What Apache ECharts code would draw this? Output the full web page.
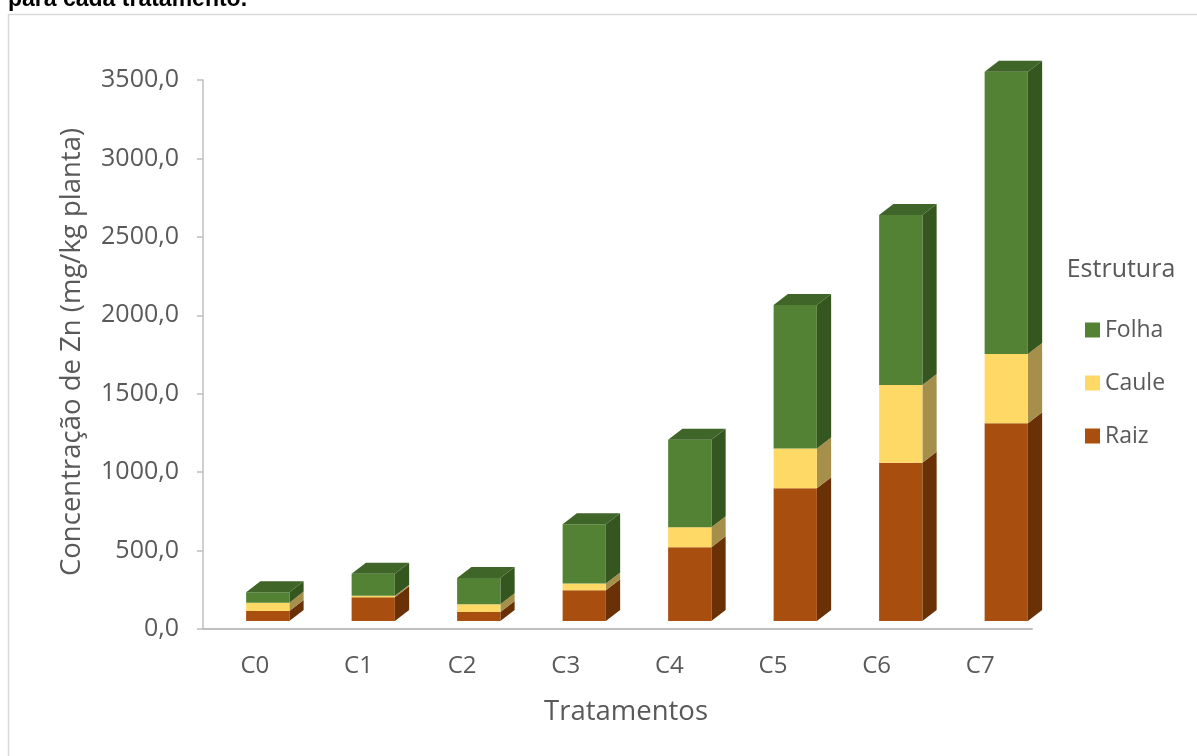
<!DOCTYPE html>
<html>
<head>
<meta charset="utf-8">
<script src="https://cdn.jsdelivr.net/npm/echarts@6/dist/echarts.min.js"></script>
<style>
  html, body { margin: 0; padding: 0; background: #ffffff; }
  #chart { width: 1197px; height: 756px; }
</style>
</head>
<body>
<div id="chart"></div>
<script>
// Zn concentration per plant structure, per treatment (mg/kg planta)
const categories = ['C0', 'C1', 'C2', 'C3', 'C4', 'C5', 'C6', 'C7'];
const raiz  = [64, 151, 57, 196, 470, 846, 1009, 1260];
const caule = [53, 10, 49, 43, 128, 253, 495, 442];
const folha = [66, 140, 168, 378, 557, 916, 1084, 1800];
const yTicks = { min: 0, max: 3500, interval: 500 };

const FONT = '"Open Sans", "Noto Sans", sans-serif';
const TEXT = '#595959';

// face colours: front, side, top
const palette = {
  Raiz:  { front: '#A84E0E', side: '#6A3006', top: '#7E3B0A' },
  Caule: { front: '#FFD966', side: '#A68F4A', top: '#C9AB55' },
  Folha: { front: '#548235', side: '#36561F', top: '#3F6529' }
};

const layers = [
  { name: 'Raiz',  values: raiz },
  { name: 'Caule', values: caule },
  { name: 'Folha', values: folha }
];

// cumulative stacking: each item is [category index, lower, upper]
const base = categories.map(() => 0);
const stacked = layers.map(layer => {
  const data = layer.values.map((v, i) => {
    const lo = base[i];
    base[i] += v;
    return [i, lo, base[i]];
  });
  return { name: layer.name, data };
});

function boxRenderer(name, drawTop) {
  const c = palette[name];
  return function (params, api) {
    const cat = api.value(0);
    const pLo = api.coord([cat, api.value(1)]);
    const pHi = api.coord([cat, api.value(2)]);
    const band = api.size([1, 0])[0];
    const w = band * 0.41;
    const dx = w * 0.33, dy = w * 0.255;
    const x0 = pLo[0] - w / 2, x1 = x0 + w;
    const yB = pLo[1], yT = pHi[1];
    const children = [
      { type: 'polygon', shape: { points: [[x1, yT], [x1 + dx, yT - dy], [x1 + dx, yB - dy], [x1, yB]] },
        style: { fill: c.side } },
      { type: 'rect', shape: { x: x0, y: yT, width: w, height: yB - yT },
        style: { fill: c.front } }
    ];
    if (drawTop) {
      children.push({ type: 'polygon', shape: { points: [[x0, yT], [x0 + dx, yT - dy], [x1 + dx, yT - dy], [x1, yT]] },
        style: { fill: c.top } });
    }
    return { type: 'group', children };
  };
}

const chart = echarts.init(document.getElementById('chart'), null, { renderer: 'canvas' });

chart.setOption({
  animation: false,
  backgroundColor: '#ffffff',
  color: [palette.Raiz.front, palette.Caule.front, palette.Folha.front],
  textStyle: { fontFamily: FONT },
  grid: [
    // boxes sit slightly raised and shifted, as on a 3D floor
    { left: 215, top: 72, width: 844, height: 549 },
    // visible axes
    { left: 203, top: 80, width: 829, height: 549 }
  ],
  xAxis: [
    { gridIndex: 0, type: 'category', data: categories, show: false },
    {
      gridIndex: 1, type: 'category', data: categories,
      axisLine: { lineStyle: { color: '#BFBFBF', width: 2 } },
      axisTick: { show: false },
      axisLabel: { color: TEXT, fontSize: 24, fontFamily: FONT, margin: 25 }
    }
  ],
  yAxis: [
    { gridIndex: 0, type: 'value', min: yTicks.min, max: yTicks.max, show: false },
    {
      gridIndex: 1, type: 'value', min: yTicks.min, max: yTicks.max, interval: yTicks.interval,
      axisLine: { show: true, lineStyle: { color: '#BFBFBF', width: 1.5 } },
      axisTick: { show: true, length: 6, lineStyle: { color: '#BFBFBF', width: 1.5 } },
      splitLine: { show: false },
      axisLabel: {
        color: TEXT, fontSize: 25, fontFamily: FONT, margin: 24,
        formatter: v => v.toFixed(1).replace('.', ',')
      }
    }
  ],
  legend: {
    orient: 'vertical',
    left: 1080, top: 313,
    data: ['Folha', 'Caule', 'Raiz'],
    icon: 'rect',
    itemWidth: 15, itemHeight: 15,
    itemGap: 29,
    textStyle: { color: TEXT, fontSize: 23, fontFamily: FONT, lineHeight: 24 }
  },
  graphic: [
    { type: 'rect', silent: true, shape: { x: 8.5, y: 14.5, width: 1300, height: 900 },
      style: { fill: 'none', stroke: '#D9D9D9', lineWidth: 1.5 } },
    { type: 'text', silent: true, x: 8, y: 0,
      style: { text: 'para cada tratamento.', fill: '#000000', font: 'bold 23px "Liberation Sans", Arial, sans-serif',
               textAlign: 'left', textVerticalAlign: 'middle' } },
    { type: 'text', silent: true, x: 72, y: 352, rotation: Math.PI / 2,
      style: { text: 'Concentração de Zn (mg/kg planta)', fill: TEXT, font: '27.5px ' + FONT,
               textAlign: 'center', textVerticalAlign: 'middle' } },
    { type: 'text', silent: true, x: 626, y: 712,
      style: { text: 'Tratamentos', fill: TEXT, font: '27.5px ' + FONT,
               textAlign: 'center', textVerticalAlign: 'middle' } },
    { type: 'text', silent: true, x: 1121, y: 270,
      style: { text: 'Estrutura', fill: TEXT, font: '25px ' + FONT,
               textAlign: 'center', textVerticalAlign: 'middle' } }
  ],
  series: stacked.map((s, k) => ({
    name: s.name,
    type: 'custom',
    xAxisIndex: 0, yAxisIndex: 0,
    itemStyle: { color: palette[s.name].front },
    renderItem: boxRenderer(s.name, k === stacked.length - 1),
    encode: { x: 0, y: [1, 2] },
    data: s.data
  }))
});
</script>
</body>
</html>
